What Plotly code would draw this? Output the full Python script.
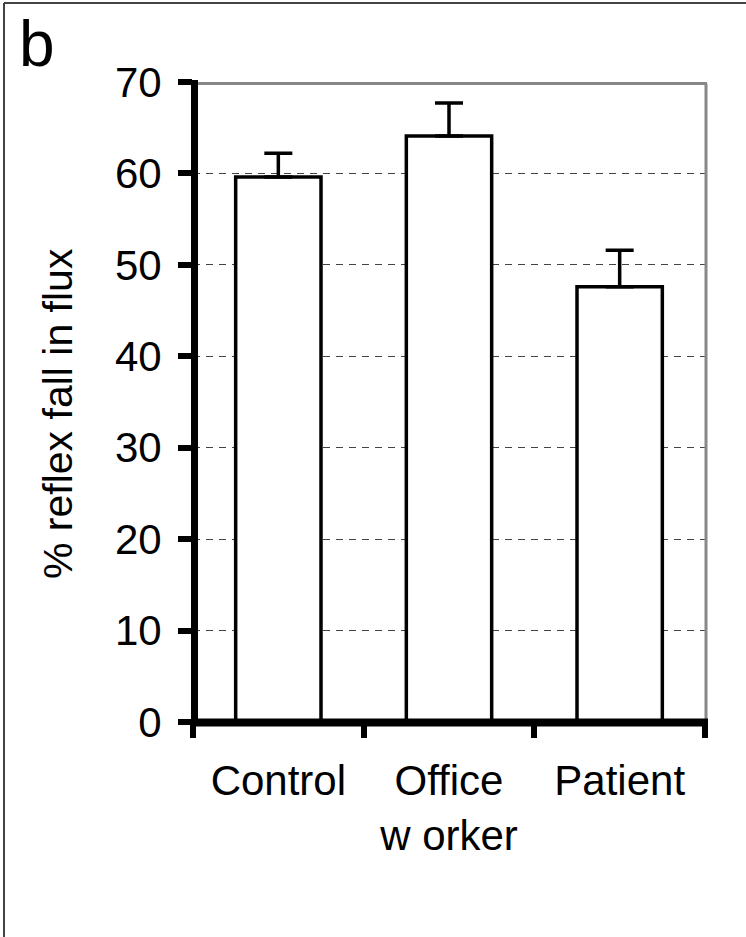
import plotly.graph_objects as go

# ---- data ----
categories = ["Control", "Office<br>w orker", "Patient"]
values = [59.6, 64.1, 47.6]
errors_plus = [2.6, 3.6, 4.0]
y_ticks = [0, 10, 20, 30, 40, 50, 60, 70]

W, H = 746, 937
L, R, T, B = 193, 41, 82, 215
PW, PH = W - L - R, H - T - B


def px_x(px):
    return (px - L) / PW


def px_y(py):
    return (H - B - py) / PH


FONT = "Liberation Sans, Arial, Helvetica, sans-serif"

fig = go.Figure()
fig.add_trace(go.Bar(
    x=categories,
    y=values,
    marker=dict(color="white", line=dict(color="black", width=3.5)),
    error_y=dict(type="data", symmetric=False, array=errors_plus,
                 arrayminus=[0, 0, 0], color="black", thickness=3.5, width=14),
    width=0.5,
))

shapes = [
    # gray top and right frame of plot area
    dict(type="line", xref="paper", yref="paper", x0=0, x1=px_x(707), y0=px_y(83.5), y1=px_y(83.5),
         line=dict(color="#888888", width=3)),
    dict(type="line", xref="paper", yref="paper", x0=px_x(706), x1=px_x(706), y0=0, y1=px_y(83.5),
         line=dict(color="#888888", width=3)),
    # thick black axes
    dict(type="line", xref="paper", yref="paper", x0=px_x(194.5), x1=px_x(194.5),
         y0=px_y(726), y1=px_y(80), line=dict(color="black", width=7)),
    dict(type="line", xref="paper", yref="paper", x0=px_x(191), x1=px_x(708),
         y0=px_y(722.5), y1=px_y(722.5), line=dict(color="black", width=8)),
    # outer image frame (left and top)
    dict(type="line", xref="paper", yref="paper", x0=px_x(4), x1=px_x(4),
         y0=px_y(3), y1=px_y(940), line=dict(color="#444444", width=2)),
    dict(type="line", xref="paper", yref="paper", x0=px_x(4), x1=px_x(750),
         y0=px_y(3), y1=px_y(3), line=dict(color="#444444", width=2)),
]

annotations = [
    dict(text="% reflex fall in flux", xref="paper", yref="paper",
         x=px_x(58), y=px_y(414), xanchor="center", yanchor="middle",
         textangle=-90, showarrow=False,
         font=dict(family=FONT, size=41, color="black")),
    dict(text="b", xref="paper", yref="paper",
         x=px_x(17), y=px_y(6), xanchor="left", yanchor="top",
         showarrow=False, font=dict(family=FONT, size=64, color="black")),
]

fig.update_layout(
    width=W, height=H,
    margin=dict(l=L, r=R, t=T, b=B),
    paper_bgcolor="white", plot_bgcolor="white",
    showlegend=False,
    shapes=shapes,
    annotations=annotations,
    font=dict(family=FONT, size=42, color="black"),
    bargap=0.5,
)
fig.update_xaxes(
    type="category", range=[-0.5, 2.5], showline=False, showgrid=False,
    zeroline=False, ticks="outside", tickson="boundaries", ticklen=15,
    tickwidth=6, tickcolor="black", ticklabelstandoff=30,
    tickfont=dict(family=FONT, size=42, color="black"),
)
fig.update_yaxes(
    range=[0, 70], tickvals=y_ticks, ticktext=[str(v) for v in y_ticks],
    showline=False, zeroline=False, showgrid=True, gridcolor="#444444",
    gridwidth=1, griddash="7px,6px", ticks="outside", ticklen=14,
    tickwidth=6, tickcolor="black", ticklabelstandoff=8,
    tickfont=dict(family=FONT, size=42, color="black"),
)

fig.write_html("out.html", config={"displayModeBar": False},
               post_script="document.body.style.margin='0';document.body.style.padding='0';")
